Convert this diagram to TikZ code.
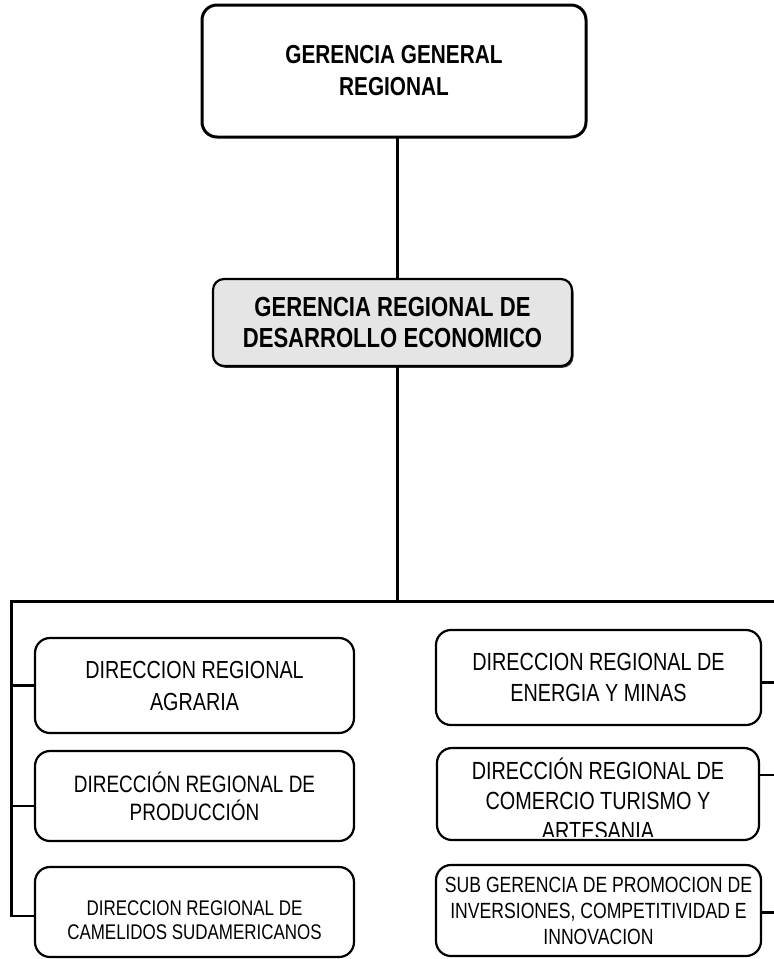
\documentclass[tikz,border=0pt]{standalone}
\usepackage{fontspec}
\setmainfont{Liberation Sans}[FakeStretch=0.8]
\usetikzlibrary{shadows,calc}
\begin{document}
\begin{tikzpicture}[x=1pt,y=-1pt,
  topbox/.style={draw, line width=3pt, rounded corners=15pt, inner sep=0pt, outer sep=0pt, align=center, font=\bfseries\fontsize{26}{32}\selectfont},
  midbox/.style={draw, line width=2.2pt, rounded corners=11pt, fill=black!10, inner sep=0pt, outer sep=0pt, align=center, font=\bfseries\fontsize{27.6}{31}\selectfont, drop shadow={shadow xshift=1.5pt, shadow yshift=-1.8pt, fill=black!80, opacity=1}},
  unitbox/.style={draw, line width=2.2pt, rounded corners=15pt, inner sep=0pt, outer sep=0pt, align=center},
  conn/.style={line width=3pt},
  stub/.style={line width=2.2pt}]
\useasboundingbox (0,0) rectangle (774,959);
\node[topbox, minimum width=384pt, minimum height=132pt] (top) at (394,71) {GERENCIA GENERAL\\REGIONAL};
\node[midbox, minimum width=359pt, minimum height=87pt] (mid) at (392.5,322.5) {GERENCIA REGIONAL DE\\DESARROLLO ECONOMICO};
\coordinate (j1) at (397,137);
\coordinate (j2) at (397,279);
\coordinate (j3) at (397,366);
\coordinate (bus) at (397,601);
\coordinate (busL) at (11,601);
\coordinate (busLb) at (11,917);
\coordinate (busR) at (774,601);
\draw[conn] (j1) -- (j2);
\draw[conn] (j3) -- (bus);
\draw[conn] (busR) -- (busL) -- (busLb);

\node[unitbox, minimum width=319pt, minimum height=95pt, font=\fontsize{24.7}{32}\selectfont] (l1) at (194.5,685.5) {DIRECCION REGIONAL\\AGRARIA};
\node[unitbox, minimum width=319pt, minimum height=90pt, font=\fontsize{23.7}{28}\selectfont] (l2) at (194.5,796) {DIRECCIÓN REGIONAL DE\\PRODUCCIÓN};
\node[unitbox, minimum width=319pt, minimum height=90pt] (l3) at (194.5,912) {};
\node[font=\fontsize{21.2}{24}\selectfont, align=center, inner sep=0pt] (l3t) at (194.5,920) {DIRECCION REGIONAL DE\\CAMELIDOS SUDAMERICANOS};

\node[unitbox, minimum width=325pt, minimum height=95pt, font=\fontsize{24.8}{31}\selectfont] (r1) at (598.5,677.5) {DIRECCION REGIONAL DE\\ENERGIA Y MINAS};
\begin{scope}
\clip (437,748) rectangle (759,836);
\node[font=\fontsize{24.8}{30}\selectfont, align=center, inner sep=0pt, anchor=north] (r2t) at (598,758) {DIRECCIÓN REGIONAL DE\\COMERCIO TURISMO Y\\ARTESANIA};
\end{scope}
\node[unitbox, minimum width=322pt, minimum height=92pt] (r2) at (598,794) {};
\node[unitbox, minimum width=325pt, minimum height=91pt, font=\fontsize{22}{26}\selectfont] (r3) at (598.5,910.5) {SUB GERENCIA DE PROMOCION DE\\INVERSIONES, COMPETITIVIDAD E\\INNOVACION};

\draw[stub] (l1.west) -- (l1.west -| busL);
\draw[stub] ([yshift=-10pt]l2.west) -- ([yshift=-10pt]l2.west -| busL);
\draw[stub] ([yshift=-4pt]l3.west) -- ([yshift=-4pt]l3.west -| busL);
\draw[stub] ([yshift=-5pt]r1.east) -- ([yshift=-5pt]r1.east -| busR);
\draw[stub] ([yshift=19pt]r2.east) -- ([yshift=19pt]r2.east -| busR);
\draw[stub] ([yshift=-2pt]r3.east) -- ([yshift=-2pt]r3.east -| busR);
\end{tikzpicture}
\end{document}
